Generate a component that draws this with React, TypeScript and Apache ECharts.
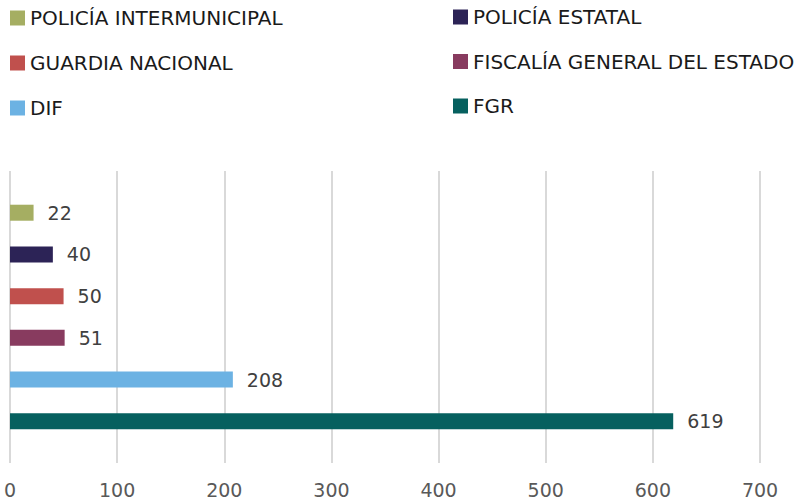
import React, { useEffect, useRef } from "react";
import * as echarts from "echarts";

const categories = [
  "POLICÍA INTERMUNICIPAL",
  "POLICÍA ESTATAL",
  "GUARDIA NACIONAL",
  "FISCALÍA GENERAL DEL ESTADO",
  "DIF",
  "FGR",
];
const values = [22, 40, 50, 51, 208, 619];
const colors = ["#A5AE62", "#2C2356", "#C0504D", "#883B5F", "#6CB2E3", "#06605F"];
const xTicks = [0, 100, 200, 300, 400, 500, 600, 700];

const FONT = "DejaVu Sans";

export default function App() {
  const ref = useRef<HTMLDivElement>(null);
  useEffect(() => {
    if (!ref.current) return;
    const chart = echarts.init(ref.current, undefined, { renderer: "svg" });
    const yData = ["", ...categories, ""];
    const series = categories.map((name, i) => ({
      name,
      type: "bar",
      barWidth: 16,
      barGap: "-100%",
      itemStyle: { color: colors[i] },
      label: {
        show: true,
        position: "right",
        distance: 14,
        color: "#404040",
        fontSize: 19,
        fontFamily: FONT,
        formatter: (p: any) => String(p.value),
      },
      data: yData.map((_, j) => (j === i + 1 ? values[i] : "-")),
    }));
    const legendCommon = {
      orient: "vertical",
      itemWidth: 15,
      itemHeight: 15,
      icon: "rect",
      padding: 0,
      textStyle: { fontSize: 20, fontFamily: FONT, color: "#1a1a1a", lineHeight: 20 },
    };
    chart.setOption({
      animation: false,
      textStyle: { fontFamily: FONT },
      legend: [
        { ...legendCommon, left: 10, top: 8, itemGap: 25, data: [categories[0], categories[2], categories[4]] },
        { ...legendCommon, left: 453, top: 7, itemGap: 24.5, data: [categories[1], categories[3], categories[5]] },
      ],
      grid: { left: 10, right: 40, top: 171, bottom: 40, containLabel: false },
      xAxis: {
        type: "value",
        min: xTicks[0],
        max: xTicks[xTicks.length - 1],
        interval: 100,
        axisLine: { show: false },
        axisTick: { show: false },
        splitLine: { show: true, lineStyle: { color: "#D9D9D9", width: 2 } },
        axisLabel: { color: "#595959", fontSize: 19, fontFamily: FONT, margin: 17 },
      },
      yAxis: {
        type: "category",
        data: yData,
        inverse: true,
        boundaryGap: false,
        axisLine: { show: false },
        axisTick: { show: false },
        axisLabel: { show: false },
        splitLine: { show: false },
      },
      series,
    });
    return () => chart.dispose();
  }, []);
  return <div ref={ref} style={{ position: "absolute", left: 0, top: 0, width: 800, height: 503 }} />;
}
